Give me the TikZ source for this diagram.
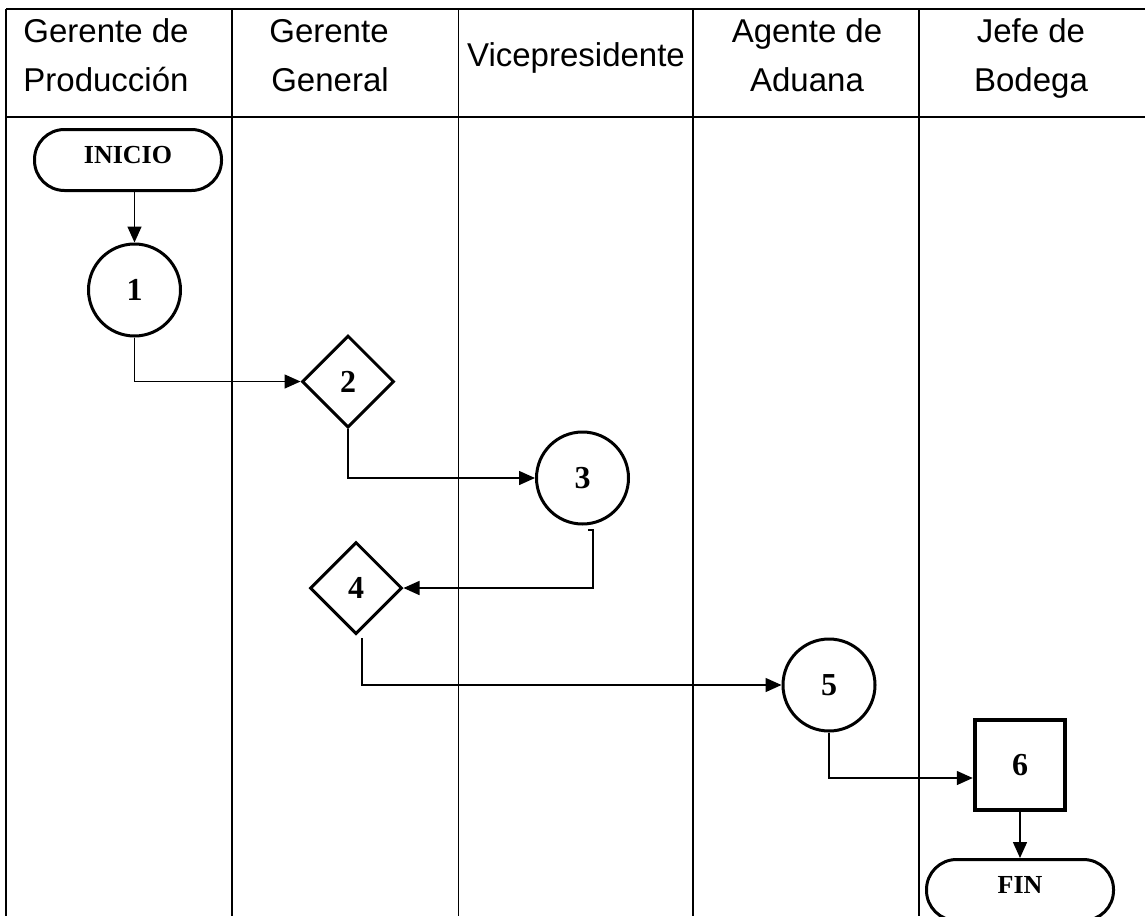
\documentclass[tikz,border=0pt]{standalone}
\usepackage{fontspec}
\setmainfont{Liberation Serif}
\newfontfamily\headfont{Liberation Sans}
\usetikzlibrary{arrows.meta,shapes.geometric}
\begin{document}
\begin{tikzpicture}[x=1pt,y=-1pt,
  rule/.style={line width=2.2pt},
  rulethin/.style={line width=1pt},
  head/.style={font=\headfont\fontsize{33}{38}\selectfont, anchor=base, inner sep=0pt},
  term/.style={draw, line width=3pt, rounded corners=30pt, minimum width=187pt,
    minimum height=61pt, inner sep=0pt, text depth=10pt,
    font=\bfseries\fontsize{26}{28}\selectfont},
  proc/.style={draw, circle, line width=3pt, minimum size=92pt, inner sep=0pt,
    font=\bfseries\fontsize{32}{34}\selectfont},
  dec/.style={draw, diamond, line width=3pt, minimum width=92pt, minimum height=92pt,
    inner sep=0pt, font=\bfseries\fontsize{32}{34}\selectfont},
  box/.style={draw, rectangle, line width=4.5pt, minimum size=90pt, inner sep=0pt,
    font=\bfseries\fontsize{32}{34}\selectfont},
  flow/.style={line width=1.5pt, -{Triangle[length=16pt,width=14pt]}},
]
\useasboundingbox (0,0) rectangle (1145,916);

% swimlane table
\draw[rule] (6,9) -- (1145,9);
\draw[rule] (6,117) -- (1145,117);
\draw[rule] (6,9) -- (6,916);
\draw[rule] (232,9) -- (232,916);
\draw[rulethin] (458,9) -- (458,916);
\draw[rule] (693,9) -- (693,916);
\draw[rule] (919,9) -- (919,916);

% lane headings
\node[head] (h1a) at (106,42) {Gerente de};
\node[head] (h1b) at (106,91) {Producción};
\node[head] (h2a) at (329,42) {Gerente};
\node[head] (h2b) at (330,91) {General};
\node[head] (h3)  at (576,66) {Vicepresidente};
\node[head] (h4a) at (807,42) {Agente de};
\node[head] (h4b) at (807,91) {Aduana};
\node[head] (h5a) at (1031,42) {Jefe de};
\node[head] (h5b) at (1031,91) {Bodega};

% flow steps
\node[term] (ini) at (128,160) {INICIO};
\node[proc] (p1) at (134.5,290) {1};
\node[dec]  (d2) at (348,381.5) {2};
\node[proc] (p3) at (582.5,478) {3};
\node[dec]  (d4) at (356,588) {4};
\node[proc] (p5) at (829,685) {5};
\node[box]  (b6) at (1020,765) {6};
\node[term] (fin) at (1020,890) {FIN};

\coordinate (t3) at (593,530);
\coordinate (t4) at (362,638);

% connectors
\draw[flow] (p1.north |- ini.south) -- (p1.north);
\draw[flow] (p1.south) |- (d2.west);
\draw[flow] (d2.south) |- (p3.west);
\draw[flow] ([xshift=-5pt]t3) -- (t3) |- (d4.east);
\draw[flow] (t4) |- (p5.west);
\draw[flow] (p5.south) |- ([yshift=-13pt]b6.west);
\draw[flow] (b6.south) -- (b6.south |- fin.north);
\end{tikzpicture}
\end{document}
